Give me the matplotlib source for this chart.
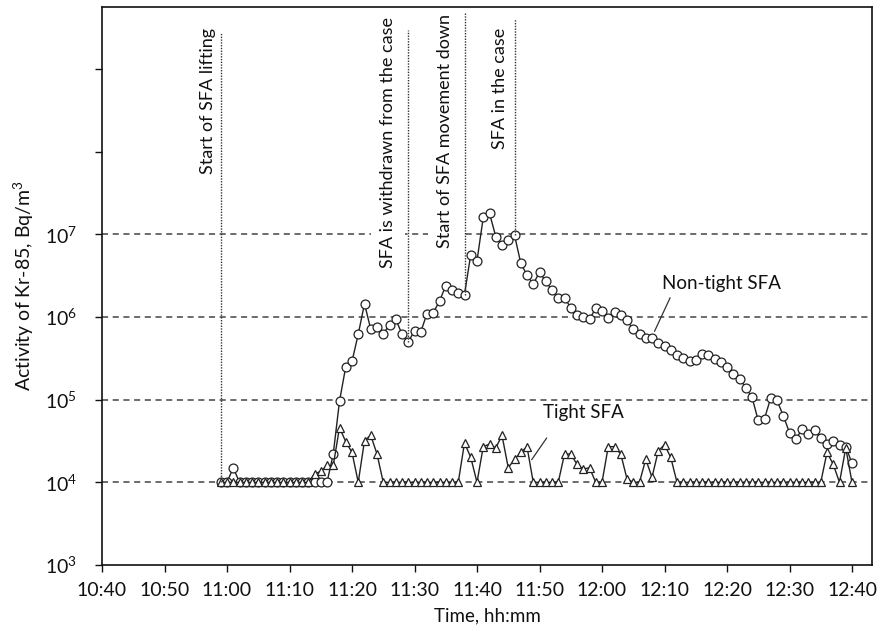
import matplotlib
matplotlib.use("Agg")
import matplotlib.pyplot as plt
import matplotlib.ticker as mticker
import numpy as np

plt.rcParams['font.family'] = ['Lato', 'DejaVu Sans']
plt.rcParams['mathtext.fontset'] = 'custom'
plt.rcParams['mathtext.rm'] = 'Lato'
plt.rcParams['mathtext.it'] = 'Lato:italic'
plt.rcParams['mathtext.bf'] = 'Lato:bold'

# ---------------- data ----------------
start_time = "10:59"          # first sample, one sample per minute
end_time = "12:40"

non_tight = [
    1e4, 1e4, 1.5e4, 1e4, 1e4, 1e4, 1e4, 1e4, 1e4, 1e4,            # 10:59-11:08
    1e4, 1e4, 1e4, 1e4, 1e4, 1e4, 1e4, 1e4, 2.2e4, 9.6e4,          # 11:09-11:18
    2.5e5, 2.9e5, 6.2e5, 1.45e6, 7.1e5, 7.5e5, 6.3e5, 8.0e5, 9.4e5, 6.2e5,   # 11:19-11:28
    5.0e5, 6.8e5, 6.6e5, 1.1e6, 1.13e6, 1.55e6, 2.4e6, 2.1e6, 1.95e6, 1.87e6,  # 11:29-11:38
    5.7e6, 4.8e6, 1.6e7, 1.8e7, 9.4e6, 7.4e6, 8.5e6, 9.8e6, 4.5e6, 3.2e6,    # 11:39-11:48
    2.5e6, 3.5e6, 2.7e6, 2.1e6, 1.7e6, 1.7e6, 1.3e6, 1.05e6, 1.0e6, 9.5e5,   # 11:49-11:58
    1.27e6, 1.18e6, 9.8e5, 1.16e6, 1.07e6, 9.1e5, 7.1e5, 6.3e5, 5.5e5, 5.6e5,  # 11:59-12:08
    4.9e5, 4.5e5, 4.0e5, 3.5e5, 3.2e5, 2.9e5, 3.0e5, 3.6e5, 3.5e5, 3.1e5,    # 12:09-12:18
    2.85e5, 2.5e5, 2.05e5, 1.8e5, 1.4e5, 1.07e5, 5.6e4, 5.9e4, 1.05e5, 9.8e4,  # 12:19-12:28
    6.4e4, 4.0e4, 3.3e4, 4.4e4, 3.8e4, 4.3e4, 3.4e4, 2.9e4, 3.2e4, 2.8e4,    # 12:29-12:38
    2.7e4, 1.7e4,                                                      # 12:39-12:40
]

tight = [
    1e4, 1e4, 1e4, 1e4, 1e4, 1e4, 1e4, 1e4, 1e4, 1e4,              # 10:59-11:08
    1e4, 1e4, 1e4, 1e4, 1e4, 1.26e4, 1.36e4, 1.6e4, 1.6e4, 4.6e4,    # 11:09-11:18
    3.1e4, 2.3e4, 1e4, 3.2e4, 3.7e4, 2.2e4, 1e4, 1e4, 1e4, 1e4,      # 11:19-11:28
    1e4, 1e4, 1e4, 1e4, 1e4, 1e4, 1e4, 1e4, 1e4, 3.0e4,              # 11:29-11:38
    2.0e4, 1e4, 2.7e4, 2.9e4, 2.6e4, 3.7e4, 1.5e4, 1.9e4, 2.3e4, 2.7e4,  # 11:39-11:48
    1e4, 1e4, 1e4, 1e4, 1e4, 2.2e4, 2.2e4, 1.65e4, 1.45e4, 1.5e4,    # 11:49-11:58
    1e4, 1e4, 2.7e4, 2.7e4, 2.2e4, 1.1e4, 1e4, 1e4, 1.9e4, 1.15e4,   # 11:59-12:08
    2.4e4, 2.85e4, 2.0e4, 1e4, 1e4, 1e4, 1e4, 1e4, 1e4, 1e4,         # 12:09-12:18
    1e4, 1e4, 1e4, 1e4, 1e4, 1e4, 1e4, 1e4, 1e4, 1e4,                # 12:19-12:28
    1e4, 1e4, 1e4, 1e4, 1e4, 1e4, 1e4, 2.3e4, 1.65e4, 1e4,           # 12:29-12:38
    2.6e4, 1e4,                                                      # 12:39-12:40
]

event_labels = ["Start of SFA lifting", "SFA is withdrawn from the case",
                "Start of SFA movement down", "SFA in the case"]
event_times = ["10:59", "11:29", "11:38", "11:46"]

x_tick_labels = ["10:40", "10:50", "11:00", "11:10", "11:20", "11:30", "11:40",
                 "11:50", "12:00", "12:10", "12:20", "12:30", "12:40"]
y_tick_exponents = [3, 4, 5, 6, 7, 8, 9]
y_labelled_exponents = [3, 4, 5, 6, 7]
grid_exponents = [4, 5, 6, 7]


def to_min(s):
    h, m = s.split(":")
    return int(h) * 60 + int(m)


t0 = to_min(start_time)
times = np.arange(t0, to_min(end_time) + 1)
assert len(times) == len(non_tight) == len(tight)

# ---------------- figure ----------------
fig = plt.figure(figsize=(8.78, 6.31), dpi=100)
ax = fig.add_axes([102 / 878, 66 / 631, 770 / 878, 558 / 631])
ax.set_yscale('log')
ax.set_xlim(to_min("10:40"), to_min("12:40") + 3.2)
ax.set_ylim(1e3, 10 ** 9.75)

# horizontal dashed grid lines
for e in grid_exponents:
    ax.axhline(10 ** e, color='#444444', lw=1.1, ls=(0, (4, 3)), zorder=1)

line_col = '#222222'
ax.plot(times, non_tight, '-', color=line_col, lw=1.0, marker='o', ms=6.4,
        mfc='white', mec=line_col, mew=0.9, zorder=3)
ax.plot(times, tight, '-', color=line_col, lw=1.0, marker='^', ms=6.4,
        mfc='white', mec=line_col, mew=0.9, zorder=3.1)

# event lines and labels
line_tops = [10 ** 9.44, 10 ** 9.47, 10 ** 9.68, 10 ** 9.60]
text_dx = [-2.1, -3.2, -3.1, -2.3]
text_tops = [10 ** 9.50, 10 ** 9.63, 10 ** 9.66, 10 ** 9.50]
for lab, et, top, dx, tt in zip(event_labels, event_times, line_tops, text_dx, text_tops):
    tm = to_min(et)
    bottom = non_tight[tm - t0]
    ax.plot([tm, tm], [bottom, top], color='#333333', lw=1.0,
            ls=(0, (1, 1)), zorder=4)
    ax.text(tm + dx, tt, lab, rotation=90, ha='center', va='top', fontsize=13,
            color='#111111', zorder=3.5,
            bbox=dict(boxstyle='square,pad=0.5', fc='white', ec='none'))

# series labels with leader lines
ax.text(to_min("12:19") + 0.15, 2.53e6, "Non-tight SFA", ha='center', va='center',
        fontsize=13.5, color='#111111')
ax.annotate('', xy=(to_min("12:08") + 0.4, 6.7e5), xytext=(to_min("12:10") + 0.9, 1.71e6),
            arrowprops=dict(arrowstyle='-', color='#333333', lw=0.9, shrinkA=0, shrinkB=0))
ax.text(to_min("11:56") + 0.96, 6.97e4, "Tight SFA", ha='center', va='center',
        fontsize=13.5, color='#111111')
ax.annotate('', xy=(to_min("11:48") + 0.75, 1.88e4), xytext=(to_min("11:51") + 0.15, 3.44e4),
            arrowprops=dict(arrowstyle='-', color='#333333', lw=0.9, shrinkA=0, shrinkB=0))

# axes styling
ax.set_xticks([to_min(s) for s in x_tick_labels])
ax.set_xticklabels(x_tick_labels)
ax.set_yticks([10.0 ** e for e in y_tick_exponents])
ax.set_yticklabels([r'$10^{%d}$' % e if e in y_labelled_exponents else '' for e in y_tick_exponents])
ax.yaxis.set_minor_locator(mticker.NullLocator())
ax.tick_params(axis='both', direction='out', length=5, width=1.0, colors='#111111',
               labelsize=14)
ax.tick_params(axis='y', pad=13)
ax.tick_params(axis='x', pad=7)
for sp in ax.spines.values():
    sp.set_linewidth(1.2)
    sp.set_color('#111111')
    sp.set_zorder(5)

ax.set_xlabel("Time, hh:mm", fontsize=13.5, color='#111111', labelpad=6)
ax.set_ylabel("Activity of Kr-85, Bq/m$^3$", fontsize=14, color='#111111', labelpad=6)

fig.savefig("out.png", dpi=100, facecolor='white')
